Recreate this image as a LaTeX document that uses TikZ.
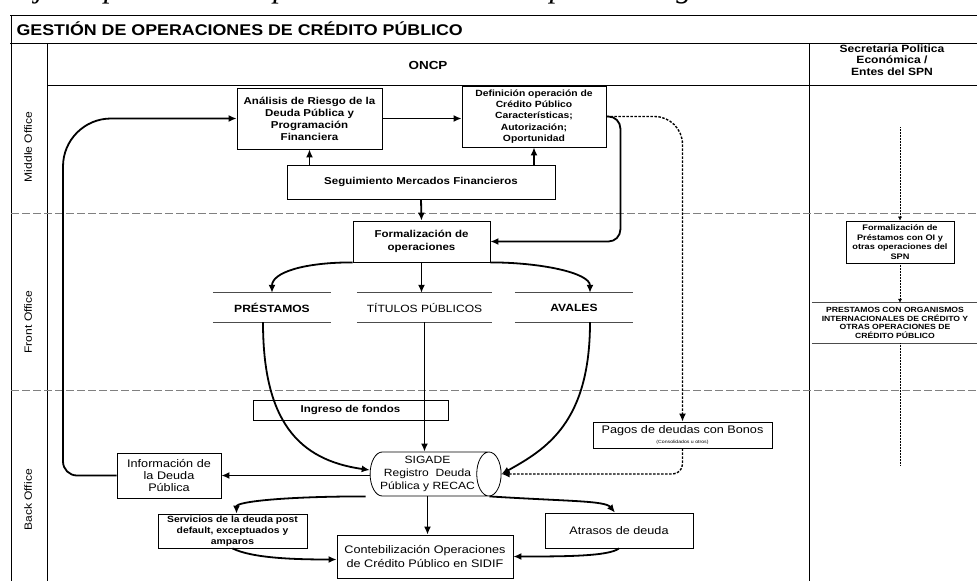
\documentclass[tikz,border=0pt]{standalone}
\usepackage{fontspec}
\setmainfont{Liberation Sans}[FakeStretch=1.15]
\newfontfamily\headfont{Liberation Serif}
\usetikzlibrary{arrows.meta,shapes.geometric,positioning,calc}
\newcommand{\fsz}[2]{\fontsize{#1}{#2}\selectfont}

\begin{document}
\begin{tikzpicture}[x=1pt,y=-1pt,
		box/.style={draw,line width=0.8pt,align=center,inner sep=1pt,font=\bfseries\fsz{10}{12}},
		tag/.style={minimum height=29pt,inner sep=0pt,align=center,font=\fsz{10.5}{12}},
		taglines/.style={gray!60!black,line width=0.7pt},
		arr/.style={-{Latex[length=8pt,width=7pt]},line width=1.8pt},
		darr/.style={arr,line width=1.4pt,dash pattern=on 2.5pt off 1.5pt},
		spn/.style={line width=0.5pt,densely dotted,-{Latex[length=4pt,width=4pt]}},
		lane/.style={gray,line width=0.5pt,dash pattern=on 8pt off 3pt},
		frame/.style={line width=0.8pt}]
	\useasboundingbox (0,0) rectangle (977,581);
	\node[anchor=base west,inner sep=0pt,font=\headfont\itshape\fsz{31}{33}] (caption) at (-8,-3) {Flujo de procesos de operaciones de crédito público según normativa de la};
	% frame and lanes
	\draw[frame] (10,15) -- (977,15);
	\draw[frame] (10,43) -- (977,43);
	\draw[frame] (11,15) -- (11,581);
	\draw[frame] (47,43) -- (47,581);
	\draw[frame] (47,85) -- (977,85);
	\draw[frame] (809,43) -- (809,581);
	\draw[lane] (11,213) -- (977,213);
	\draw[lane] (11,390) -- (977,390);
	\node[anchor=west,font=\bfseries\fsz{15.5}{18}] (titulo) at (13,29) {GESTIÓN DE OPERACIONES DE CRÉDITO PÚBLICO};
	\node[font=\bfseries\fsz{11.7}{14}] (oncp) at (428,65) {ONCP};
	\node[align=center,font=\bfseries\fsz{10.5}{11.5}] (secretaria) at (892,60) {Secretaria Politica\\Económica /\\Entes del SPN};
	\node[rotate=90,font=\fsz{10.5}{12}] (middle) at (28,147) {Middle Office};
	\node[rotate=90,font=\fsz{10.5}{12}] (front) at (28,322) {Front Office};
	\node[rotate=90,font=\fsz{10.5}{12}] (back) at (28,500) {Back Office};
	% ONCP
	\node[box,minimum width=145pt,minimum height=61pt] (analisis) at (309.5,118.5) {Análisis de Riesgo de la\\Deuda Pública y\\Programación\\Financiera};
	\node[box,minimum width=144pt,minimum height=61pt,font=\bfseries\fsz{9}{11.3}] (definicion) at (534,116.5) {Definición operación de\\Crédito Público\\Características;\\Autorización;\\Oportunidad};
	\node[box,minimum width=268pt,minimum height=34pt] (seguim) at (421,182) {Seguimiento Mercados Financieros};
	\node[box,minimum width=137pt,minimum height=41pt,font=\bfseries\fsz{10}{13}] (formal) at (421.5,241.5) {Formalización de\\operaciones};
	\node[tag,minimum width=118pt,font=\bfseries\fsz{10.5}{12}] (prest) at (272,307.5) {PRÉSTAMOS};
	\node[tag,minimum width=135pt] (titulos) at (424.5,307.5) {TÍTULOS PÚBLICOS};
	\node[tag,minimum width=118pt,font=\bfseries\fsz{10.5}{12}] (avales) at (574,307.5) {AVALES};
	\node[box,minimum width=195pt,minimum height=20pt] (ingreso) at (350.5,410) {Ingreso de fondos};
	\node[box,minimum width=179pt,minimum height=26pt,font=\fsz{11}{10}] (pagos) at (682.5,435) {Pagos de deudas con Bonos\\{\fsz{4.5}{5}(Consolidados u otros)}};
	\node[box,minimum width=104pt,minimum height=45pt,font=\fsz{11}{12}] (info) at (169,475.5) {Información de\\la Deuda\\Pública};
	\node[cylinder,draw,line width=0.8pt,shape aspect=0.65,minimum height=131pt,minimum width=44pt,align=center,inner sep=1pt,font=\fsz{10.5}{13}] (sigade) at (427.5,474) {SIGADE\\Registro\ \ Deuda\\Pública y RECAC};
	\node[box,minimum width=149pt,minimum height=34pt,font=\bfseries\fsz{9}{11}] (servicios) at (232.5,531) {Servicios de la deuda post\\default, exceptuados y\\amparos};
	\node[box,minimum width=176pt,minimum height=43pt,font=\fsz{11}{14}] (contab) at (425,556.5) {Contebilización Operaciones\\de Crédito Público en SIDIF};
	\node[box,minimum width=148pt,minimum height=35pt,font=\fsz{11}{13}] (atrasos) at (619,530.5) {Atrasos de deuda};
	% SPN
	\node[box,minimum width=108pt,minimum height=42pt,font=\bfseries\fsz{8}{9.7}] (formoi) at (900,242) {Formalización de\\Préstamos con OI y\\otras operaciones del\\SPN};
	\node[tag,minimum width=166pt,minimum height=40pt,font=\bfseries\fsz{7.5}{8.4}] (prestoi) at (895,323) {PRESTAMOS CON ORGANISMOS\\INTERNACIONALES DE CRÉDITO Y\\OTRAS OPERACIONES DE\\CRÉDITO PÚBLICO};
	\foreach \t in {prest,titulos,avales,prestoi}
		\draw[taglines] (\t.north west) -- (\t.north east) (\t.south west) -- (\t.south east);
	% connectors
	\coordinate (rail) at (63,300);
	\draw[arr] (info.west) [rounded corners=14pt] -| (rail) [rounded corners=48pt] |- (analisis.west);
	\draw[arr] (analisis.east) -- (analisis.east -| definicion.west);
	\draw[arr] (analisis.south |- seguim.north) -- (analisis.south);
	\draw[arr] (definicion.south |- seguim.north) -- (definicion.south);
	\draw[arr] (seguim.south) -- (formal.north);
	\draw[darr,rounded corners=28pt] (definicion.east) -| (pagos.north);
	\draw[arr,rounded corners=12pt] (definicion.east) -- ++(14,0) |- (formal.east);
	\draw[arr] (formal.south west) .. controls +(-50,0) and +(0,-20) .. (prest.north);
	\draw[arr] (formal.south) -- (formal.south |- titulos.north);
	\draw[arr] (formal.south east) .. controls +(50,0) and +(0,-20) .. ([xshift=16pt]avales.north);
	\draw[arr] ([xshift=-9pt]prest.south) .. controls +(0,98) and +(-72,-10) .. ([yshift=4pt]sigade.west);
	\draw[arr] (titulos.south) -- (titulos.south |- sigade.north);
	\draw[arr] ([xshift=16pt]avales.south) .. controls +(0,100) and +(45,-25) .. (sigade.east);
	\draw[darr,rounded corners=10pt] (pagos.south) |- (sigade.east);
	\draw[arr] (sigade.west |- info.east) -- (info.east);
	\draw[arr] ([xshift=-62pt]sigade.south) .. controls +(-80,0) and +(0,-12) .. ([xshift=4pt]servicios.north);
	\draw[arr] (sigade.south) -- (sigade.south |- contab.north);
	\draw[arr] ([xshift=62pt]sigade.south) .. controls +(80,5) and +(-10,-12) .. ([xshift=-4pt]atrasos.north);
	\draw[arr] (servicios.south) .. controls +(20,10) and +(-40,0) .. ([yshift=-3pt]contab.west);
	\draw[arr] (atrasos.south) .. controls +(-10,8) and +(50,0) .. (contab.east);
	\coordinate (spntop) at (900,127);
	\coordinate (spnbot) at (900,466);
	\draw[spn] (spntop) -- (formoi.north);
	\draw[spn] (formoi.south) -- (formoi.south |- prestoi.north);
	\draw[line width=0.5pt,densely dotted] (formoi.south |- prestoi.south) -- (spnbot);
\end{tikzpicture}
\end{document}
